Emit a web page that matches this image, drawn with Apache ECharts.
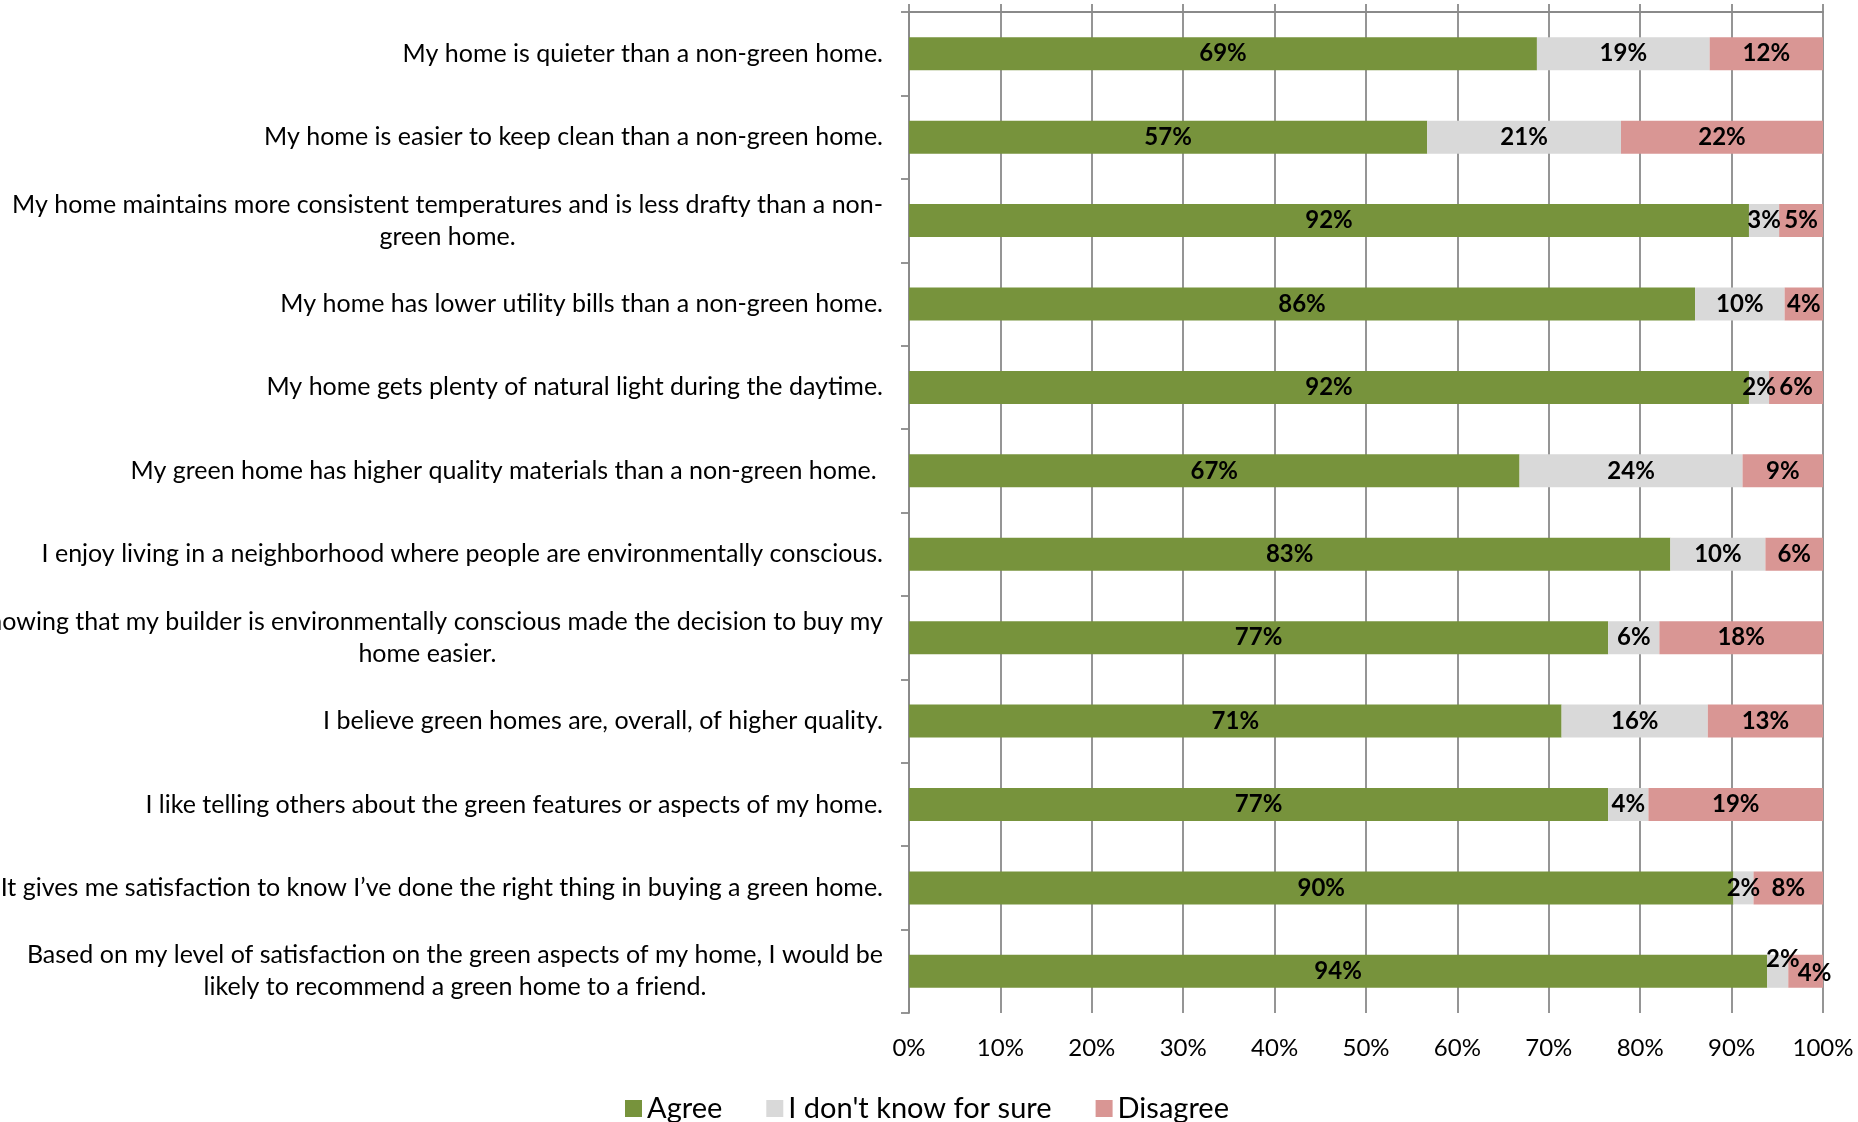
<!DOCTYPE html>
<html><head><meta charset="utf-8">
<script src="https://cdn.jsdelivr.net/npm/echarts@6/dist/echarts.min.js"></script>
<style>html,body{margin:0;padding:0;background:#fff}#c{width:1858px;height:1122px}</style>
</head><body><div id="c"></div>
<script>
const categories = [
  "My home is quieter than a non-green home.",
  "My home is easier to keep clean than a non-green home.",
  "My home maintains more consistent temperatures and is less drafty than a non-\ngreen home.",
  "My home has lower utility bills than a non-green home.",
  "My home gets plenty of natural light during the daytime.",
  "My green home has higher quality materials than a non-green home. ",
  "I enjoy living in a neighborhood where people are environmentally conscious.",
  "Knowing that my builder is environmentally conscious made the decision to buy my\nhome easier.",
  "I believe green homes are, overall, of higher quality.",
  "I like telling others about the green features or aspects of my home.",
  "It gives me satisfaction to know I\u2019ve done the right thing in buying a green home.",
  "Based on my level of satisfaction on the green aspects of my home, I would be\nlikely to recommend a green home to a friend."
];
const seriesNames = ["Agree", "I don't know for sure", "Disagree"];
const agree    = [68.7, 56.7, 91.9, 86.0, 91.9, 66.8, 83.3, 76.5, 71.4, 76.5, 90.2, 93.9];
const dontKnow = [18.9, 21.2, 3.3, 9.8, 2.2, 24.4, 10.4, 5.6, 16.0, 4.4, 2.2, 2.3];
const disagree = [12.4, 22.1, 4.8, 4.2, 5.9, 8.8, 6.3, 17.9, 12.6, 19.1, 7.6, 3.8];
const xTicks = [0, 10, 20, 30, 40, 50, 60, 70, 80, 90, 100];

const colors = ["#77933C", "#D9D9D9", "#D99694"];
const FONT = "Lato";
// manual label nudges (series index -> category index -> [dx, dy])
const labelNudge = {1: {11: [5, -12]}, 2: {11: [9, 2]}};

function buildData(values, si) {
  return values.map((v, i) => {
    const n = labelNudge[si] && labelNudge[si][i];
    return n ? {value: v, label: {offset: n}} : v;
  });
}

const chart = echarts.init(document.getElementById('c'), null, {renderer: 'canvas'});
const gridColor = "#8a8a8a";
const option = {
  animation: false,
  backgroundColor: "#fff",
  textStyle: {fontFamily: FONT},
  grid: {left: 909, right: 35, top: 12, bottom: 109, containLabel: false, outerBoundsMode: 'none'},
  legend: {
    left: 620, top: 1089,
    itemWidth: 17, itemHeight: 17, itemGap: 44,
    icon: 'rect',
    textStyle: {fontFamily: FONT, fontSize: 29, color: "#000"},
    data: seriesNames
  },
  xAxis: [{
    type: 'value', position: 'top', min: 0, max: 100, interval: 10,
    axisLine: {show: true, lineStyle: {color: gridColor, width: 1.8}},
    axisTick: {show: true, length: 8, lineStyle: {color: gridColor, width: 1.8}},
    axisLabel: {show: false},
    splitLine: {show: true, lineStyle: {color: gridColor, width: 1.8}}
  }, {
    type: 'value', position: 'bottom', min: 0, max: 100, interval: 10,
    axisLine: {show: false}, axisTick: {show: false}, splitLine: {show: false},
    axisLabel: {show: true, margin: 23, fontFamily: FONT, fontSize: 24, color: "#000",
      formatter: v => xTicks.includes(v) ? v + '%' : ''}
  }],
  yAxis: {
    type: 'category', inverse: true, data: categories,
    axisLine: {show: true, lineStyle: {color: gridColor, width: 1.8}},
    axisTick: {show: true, length: 8, lineStyle: {color: gridColor, width: 1.8}},
    axisLabel: {
      margin: 26, color: "#000", fontFamily: FONT, fontSize: 25,
      formatter: v => v.split('\n').map(l => '{c|' + l + '}').join('\n'),
      rich: {c: {align: 'center', fontFamily: FONT, fontSize: 25, color: "#000", lineHeight: 32}}
    }
  },
  series: [agree, dontKnow, disagree].map((vals, si) => ({
    name: seriesNames[si], type: 'bar', stack: 'total', xAxisIndex: 0,
    barWidth: 33,
    itemStyle: {color: colors[si]},
    label: {
      show: true, position: 'inside', color: "#000", fontFamily: FONT,
      fontWeight: 'bold', fontSize: 24,
      formatter: p => Math.round(p.value) + '%'
    },
    data: buildData(vals, si)
  }))
};
chart.setOption(option);
</script></body></html>
